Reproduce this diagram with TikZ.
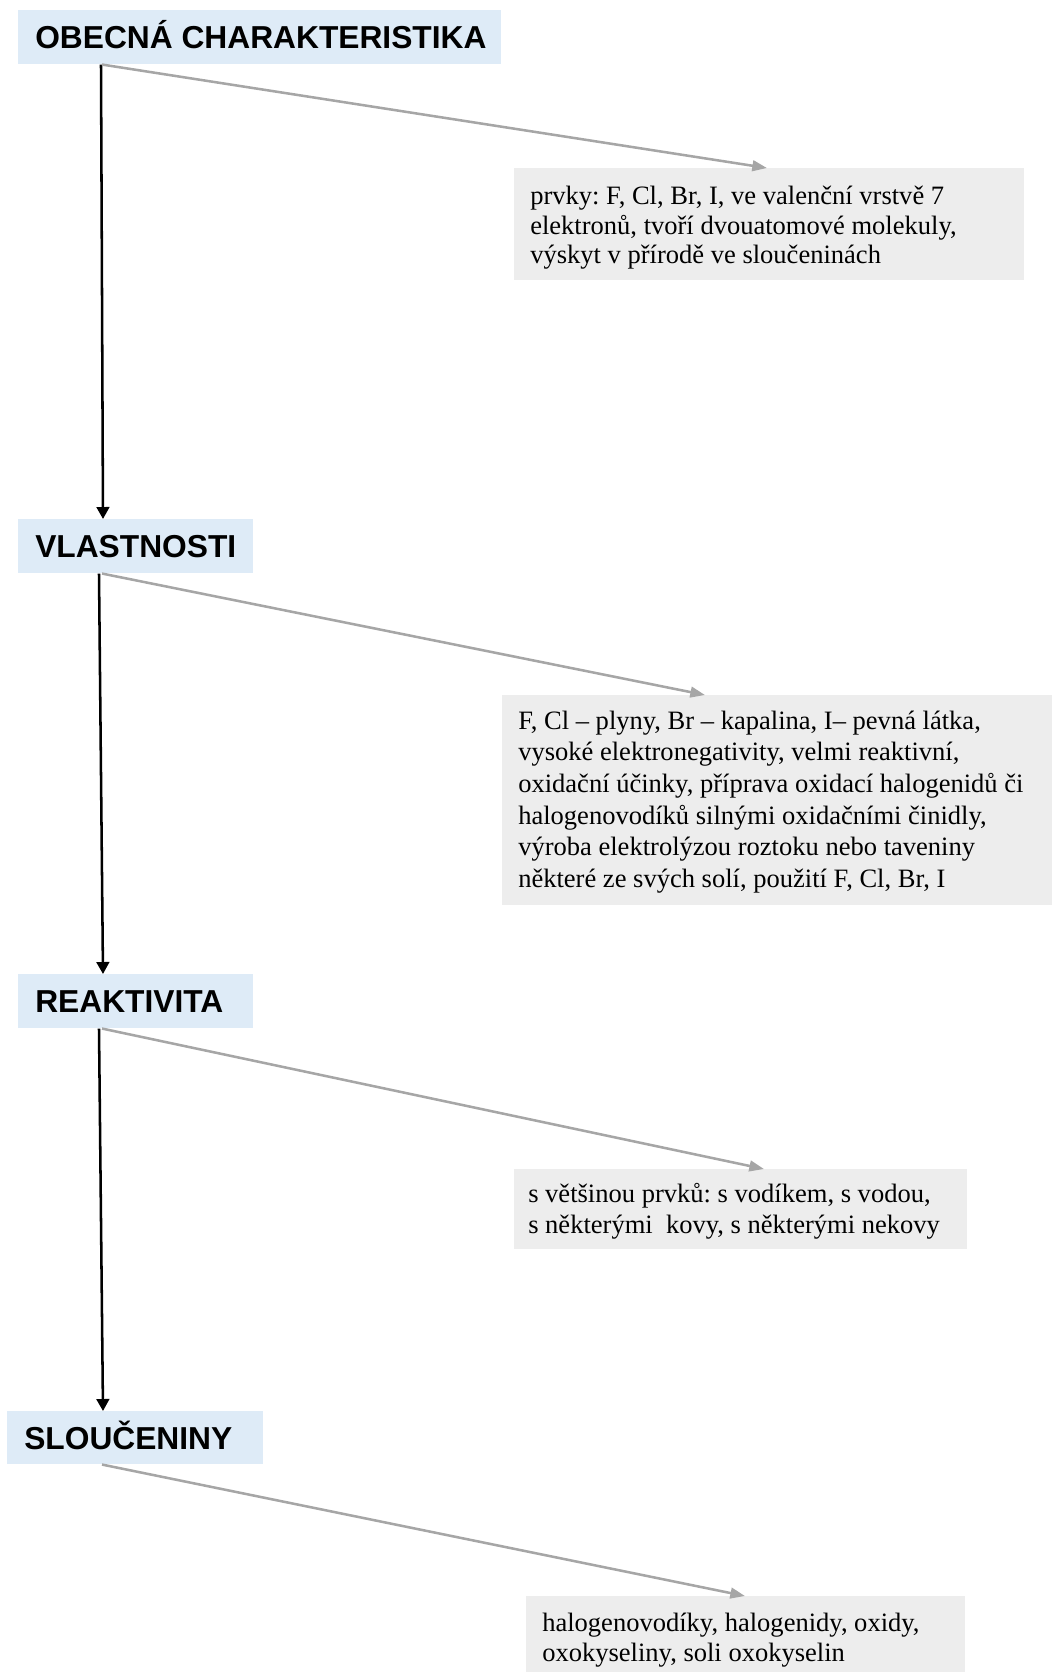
\documentclass[tikz,border=0pt]{standalone}
\usepackage{fontspec}
\setmainfont{Liberation Serif}
\newfontfamily\hdrfont{Liberation Sans}
\usetikzlibrary{arrows.meta,calc}
\frenchspacing

\definecolor{hdrblue}{RGB}{222,235,247}
\definecolor{boxgray}{RGB}{237,237,237}
\definecolor{linkgray}{RGB}{166,166,166}

\tikzset{
  hdr/.style={fill=hdrblue, anchor=north west, inner xsep=12.75pt, inner ysep=0pt,
    minimum height=40.5pt, text height=17pt, text depth=0pt,
    font=\hdrfont\fontsize{23.8pt}{28pt}\selectfont\bfseries},
  infobox/.style={fill=boxgray, anchor=north west, inner sep=0pt},
  infotext/.style={anchor=north west, inner sep=0pt, align=left},
  mainflow/.style={draw=black, line width=1.9pt, -{Triangle[length=9pt,width=9.5pt]}},
  sidelink/.style={draw=linkgray, line width=1.9pt, -{Triangle[length=11pt,width=8pt]}},
}
\newcommand\hdrline[2]{\makebox[#1][l]{#2}}
\newcommand\firstline{\rule{0pt}{15pt}}

\begin{document}
\begin{tikzpicture}[x=0.75pt, y=-0.75pt]
\useasboundingbox (0,0) rectangle (1052,1672);

% section headings
\node[hdr] (h1) at (18,10)   {\hdrline{336.75pt}{OBECNÁ CHARAKTERISTIKA}};
\node[hdr] (h2) at (18,519)  {\hdrline{150.75pt}{VLASTNOSTI}};
\node[hdr] (h3) at (18,974)  {\hdrline{150.75pt}{REAKTIVITA}};
\node[hdr, minimum height=39.75pt] (h4) at (7,1411) {\hdrline{166.5pt}{SLOUČENINY}};

% detail boxes
\node[infobox, minimum width=382.5pt, minimum height=84pt] (b1) at (514,168) {};
\node[infotext, font=\fontsize{19.9pt}{22.3pt}\selectfont] (d1) at ($(b1.north west)+(16,16)$)
  {\firstline prvky: F, Cl, Br, I, ve valenční vrstvě 7\\
   elektronů, tvoří dvouatomové molekuly,\\
   výskyt v přírodě ve sloučeninách};

\node[infobox, minimum width=412.5pt, minimum height=157.5pt] (b2) at (502,695) {};
\node[infotext, font=\fontsize{19.9pt}{23.75pt}\selectfont] (d2) at ($(b2.north west)+(16,14)$)
  {\firstline F, Cl – plyny, Br – kapalina, I– pevná látka,\\
   vysoké elektronegativity, velmi reaktivní,\\
   oxidační účinky, příprava oxidací halogenidů či\\
   halogenovodíků silnými oxidačními činidly,\\
   výroba elektrolýzou roztoku nebo taveniny\\
   některé ze svých solí, použití F, Cl, Br, I};

\node[infobox, minimum width=339.75pt, minimum height=60pt] (b3) at (514,1169) {};
\node[infotext, font=\fontsize{19.9pt}{23.6pt}\selectfont] (d3) at ($(b3.north west)+(14,13)$)
  {\firstline s většinou prvků: s vodíkem, s vodou,\\
   s některými\ \ kovy, s některými nekovy};

\node[infobox, minimum width=329.25pt, minimum height=57pt] (b4) at (526,1596) {};
\node[infotext, font=\fontsize{19.9pt}{22.8pt}\selectfont] (d4) at ($(b4.north west)+(16,15)$)
  {\firstline halogenovodíky, halogenidy, oxidy,\\
   oxokyseliny, soli oxokyselin};

% main sequence of headings
\draw[mainflow] ([xshift=62.25pt]h1.south west) -- ([xshift=63.75pt]h2.north west);
\draw[mainflow] ([xshift=60.75pt]h2.south west) -- ([xshift=63.75pt]h3.north west);
\draw[mainflow] ([xshift=60.75pt]h3.south west) -- ([xshift=72pt]h4.north west);

% links from headings to their details
\draw[sidelink] ([xshift=63pt]h1.south west) -- ([xshift=189.75pt]b1.north west);
\draw[sidelink] ([xshift=63pt]h2.south west) -- ([xshift=152.25pt]b2.north west);
\draw[sidelink] ([xshift=63pt]h3.south west) -- ([xshift=187.5pt]b3.north west);
\draw[sidelink] ([xshift=71.25pt]h4.south west) -- ([xshift=164.25pt]b4.north west);
\end{tikzpicture}
\end{document}
